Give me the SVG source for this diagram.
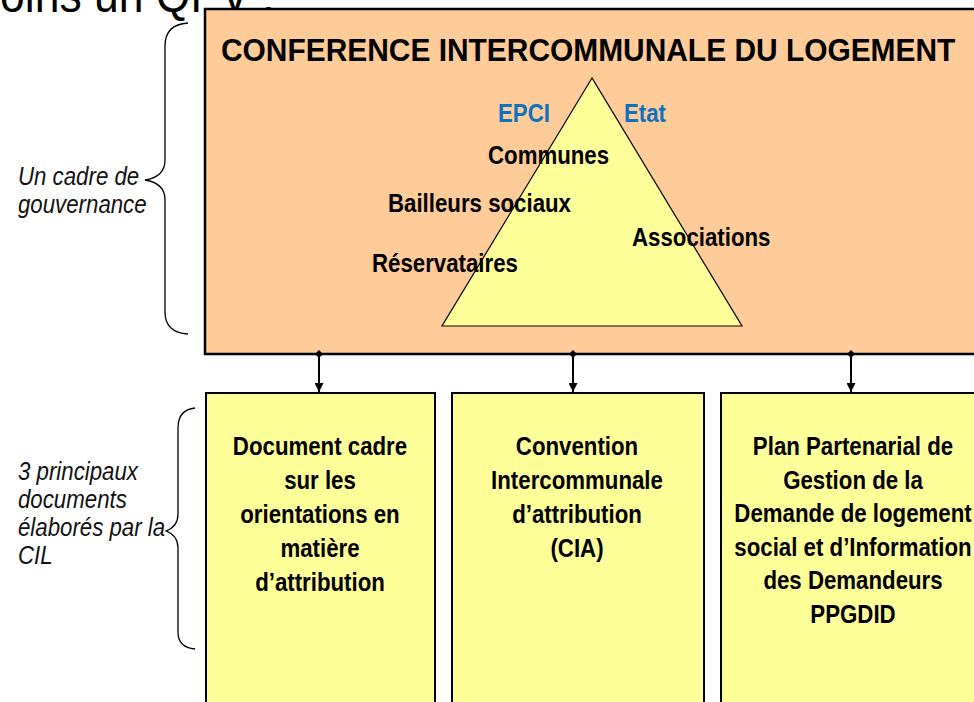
<svg xmlns="http://www.w3.org/2000/svg" width="974" height="702" viewBox="0 0 974 702">
  <style>
    .bold { font-family: "Liberation Sans", Arial, sans-serif; font-weight: bold; font-size: 25px; fill: #000; }
    .mid { text-anchor: middle; }
    .blue { fill: #1070C0; }
    .note { font-family: "Liberation Sans", Arial, sans-serif; font-style: italic; font-size: 25px; fill: #111; }
    .heading { font-family: "Liberation Sans", Arial, sans-serif; font-size: 50px; fill: #000; }
    .cil { fill: #FFCC99; stroke: #000; stroke-width: 2.5; }
    .doc { fill: #FFFF99; stroke: #000; stroke-width: 2; }
    .brace { fill: none; stroke: #000; stroke-width: 1.3; }
    .link { stroke: #000; stroke-width: 2; fill: none; }
  </style>
  <defs>
    <marker id="head" viewBox="0 0 10 10" refX="10" refY="5" markerWidth="9" markerHeight="9" orient="auto" markerUnits="userSpaceOnUse">
      <path d="M0,0 L10,5 L0,10 Z" fill="#000"/>
    </marker>
    <marker id="dot" viewBox="0 0 10 10" refX="5" refY="5" markerWidth="8" markerHeight="8" orient="auto" markerUnits="userSpaceOnUse">
      <path d="M5,0 L10,5 L5,10 L0,5 Z" fill="#000"/>
    </marker>
  </defs>

  <rect width="974" height="702" fill="#fff"/>

  <!-- slide title, cut by the top edge -->
  <text class="heading" transform="translate(-37,12) scale(0.89,1)">moins un QPV :</text>

  <!-- left-hand notes with braces -->
  <g id="note-gouvernance">
    <text class="note" transform="translate(18,185) scale(0.89,1)">Un cadre de</text>
    <text class="note" transform="translate(18,213) scale(0.89,1)">gouvernance</text>
    <path class="brace" d="M188,23 C172,24 165,33 165,46 L165,160 C165,171 158,178 145,180 C158,182 165,189 165,200 L165,312 C165,325 172,333 188,334"/>
  </g>
  <g id="note-documents">
    <text class="note" transform="translate(18,480) scale(0.89,1)">3 principaux</text>
    <text class="note" transform="translate(18,508) scale(0.89,1)">documents</text>
    <text class="note" transform="translate(18,536) scale(0.89,1)">élaborés par la</text>
    <text class="note" transform="translate(18,564) scale(0.89,1)">CIL</text>
    <path class="brace" d="M195,408 C184,409 178,416 178,428 L178,514 C178,523 174,528 166,531 C174,534 178,539 178,548 L178,632 C178,643 184,648 195,649"/>
  </g>

  <!-- conference box with the partners triangle -->
  <g id="cil">
    <rect class="cil" x="205" y="9" width="790" height="345"/>
    <text class="bold" style="font-size:31px" transform="translate(221,61) scale(0.965,1)">CONFERENCE INTERCOMMUNALE DU LOGEMENT</text>
    <polygon points="592,78 442,326 742,326" fill="#FFFF99" stroke="#000" stroke-width="1.2"/>
    <text class="bold blue" transform="translate(498,122) scale(0.89,1)">EPCI</text>
    <text class="bold blue" transform="translate(624,122) scale(0.89,1)">Etat</text>
    <text class="bold" transform="translate(488,164) scale(0.89,1)">Communes</text>
    <text class="bold" transform="translate(388,212) scale(0.89,1)">Bailleurs sociaux</text>
    <text class="bold" transform="translate(632,246) scale(0.89,1)">Associations</text>
    <text class="bold" transform="translate(372,272) scale(0.89,1)">Réservataires</text>
  </g>

  <!-- connectors -->
  <g id="connectors">
    <line class="link" x1="319" y1="354" x2="319" y2="392" marker-start="url(#dot)" marker-end="url(#head)"/>
    <line class="link" x1="573" y1="354" x2="573" y2="392" marker-start="url(#dot)" marker-end="url(#head)"/>
    <line class="link" x1="851" y1="354" x2="851" y2="392" marker-start="url(#dot)" marker-end="url(#head)"/>
  </g>

  <!-- the three documents -->
  <g id="doc-orientations">
    <rect class="doc" x="206" y="393" width="229" height="330"/>
    <text class="bold mid" transform="translate(320,455) scale(0.89,1)">Document cadre</text>
    <text class="bold mid" transform="translate(320,489) scale(0.89,1)">sur les</text>
    <text class="bold mid" transform="translate(320,523) scale(0.89,1)">orientations en</text>
    <text class="bold mid" transform="translate(320,557) scale(0.89,1)">matière</text>
    <text class="bold mid" transform="translate(320,591) scale(0.89,1)">d’attribution</text>
  </g>
  <g id="doc-cia">
    <rect class="doc" x="452" y="393" width="252" height="330"/>
    <text class="bold mid" transform="translate(577,455) scale(0.89,1)">Convention</text>
    <text class="bold mid" transform="translate(577,489) scale(0.89,1)">Intercommunale</text>
    <text class="bold mid" transform="translate(577,523) scale(0.89,1)">d’attribution</text>
    <text class="bold mid" transform="translate(577,557) scale(0.89,1)">(CIA)</text>
  </g>
  <g id="doc-ppgdid">
    <rect class="doc" x="721" y="393" width="280" height="330"/>
    <text class="bold mid" transform="translate(853,455) scale(0.89,1)">Plan Partenarial de</text>
    <text class="bold mid" transform="translate(853,488.5) scale(0.89,1)">Gestion de la</text>
    <text class="bold mid" transform="translate(853,522) scale(0.89,1)">Demande de logement</text>
    <text class="bold mid" transform="translate(853,555.5) scale(0.89,1)">social et d’Information</text>
    <text class="bold mid" transform="translate(853,589) scale(0.89,1)">des Demandeurs</text>
    <text class="bold mid" transform="translate(853,622.5) scale(0.89,1)">PPGDID</text>
  </g>
</svg>
